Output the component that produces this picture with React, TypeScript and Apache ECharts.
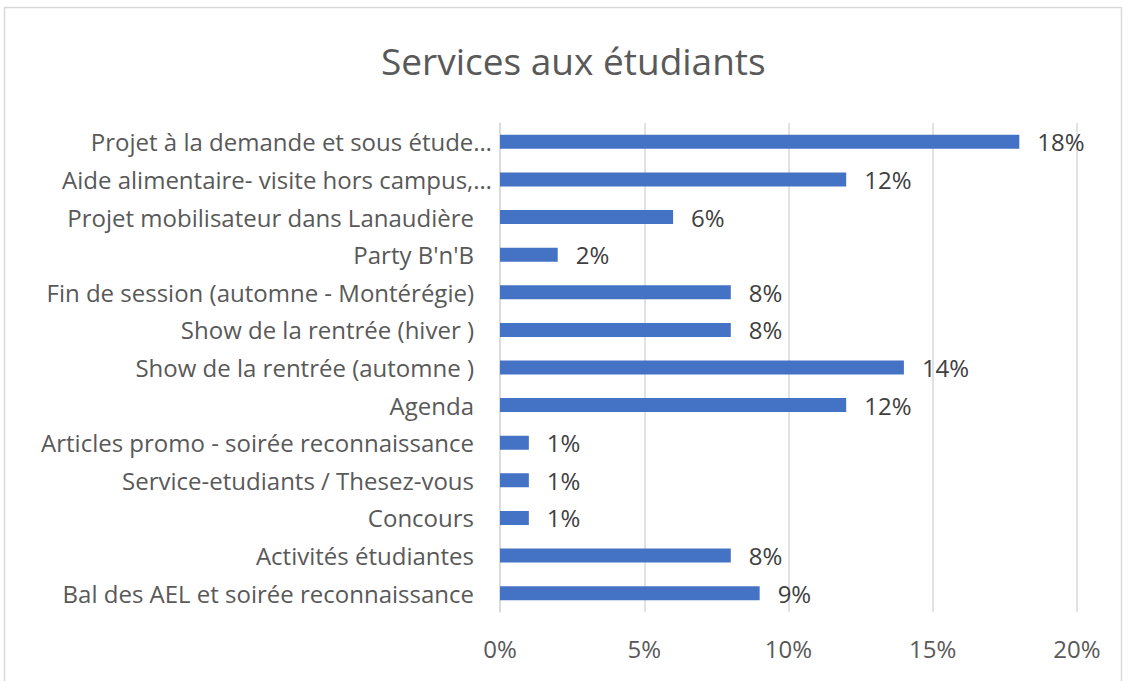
import React, { useEffect, useRef } from "react";
import * as echarts from "echarts";

const categories = [
  "Bal des AEL et soirée reconnaissance",
  "Activités étudiantes",
  "Concours",
  "Service-etudiants / Thesez-vous",
  "Articles promo - soirée reconnaissance",
  "Agenda",
  "Show de la rentrée (automne )",
  "Show de la rentrée (hiver )",
  "Fin de session (automne - Montérégie)",
  "Party B'n'B",
  "Projet mobilisateur dans Lanaudière",
  "Aide alimentaire- visite hors campus,…",
  "Projet à la demande et sous étude…",
];
const values = [9, 8, 1, 1, 1, 12, 14, 8, 8, 2, 6, 12, 18];
const xTicks = [0, 5, 10, 15, 20];

export default function App() {
  const ref = useRef<HTMLDivElement>(null);
  useEffect(() => {
    const chart = echarts.init(ref.current!, null, { renderer: "svg" });
    const font = "Open Sans";
    const fs = 24;
    chart.setOption({
      animation: false,
      backgroundColor: "#ffffff",
      title: {
        text: "Services aux étudiants",
        left: 376,
        top: 37,
        textStyle: { fontFamily: font, fontSize: 37, fontWeight: "normal", color: "#595959" },
      },
      graphic: [
        {
          type: "rect",
          shape: { x: 4.5, y: 7.5, width: 1117, height: 690 },
          style: { fill: "none", stroke: "#d9d9d9", lineWidth: 1.5 },
          silent: true,
        },
      ],
      grid: { left: 500, right: 51, top: 123, height: 489, containLabel: false },
      xAxis: {
        type: "value",
        min: xTicks[0],
        max: xTicks[xTicks.length - 1],
        interval: 5,
        axisLabel: {
          formatter: (v: number) => v + "%",
          fontFamily: font,
          fontSize: fs,
          color: "#595959",
          margin: 24,
        },
        axisLine: { show: false },
        axisTick: { show: false },
        splitLine: { lineStyle: { color: "#d9d9d9", width: 1.5 } },
      },
      yAxis: {
        type: "category",
        data: categories,
        axisLabel: {
          fontFamily: font,
          fontSize: fs,
          color: "#595959",
          margin: 8,
          formatter: (v: string) => (v.endsWith("…") ? `{a|${v}}` : `{b|${v}}`),
          rich: {
            a: { fontFamily: font, fontSize: fs, color: "#595959" },
            b: { fontFamily: font, fontSize: fs, color: "#595959", padding: [0, 18, 0, 0] },
          },
        },
        axisLine: { show: true, lineStyle: { color: "#d9d9d9", width: 1.5 } },
        axisTick: { show: false },
      },
      series: [
        {
          type: "bar",
          data: values,
          barWidth: 14,
          itemStyle: { color: "#4472c4" },
          label: {
            show: true,
            position: "right",
            distance: 18,
            formatter: (p: any) => p.value + "%",
            fontFamily: font,
            fontSize: fs,
            color: "#404040",
          },
        },
      ],
    });
    return () => chart.dispose();
  }, []);
  return <div ref={ref} style={{ width: 1128, height: 681, position: "absolute", left: 0, top: 0 }} />;
}
